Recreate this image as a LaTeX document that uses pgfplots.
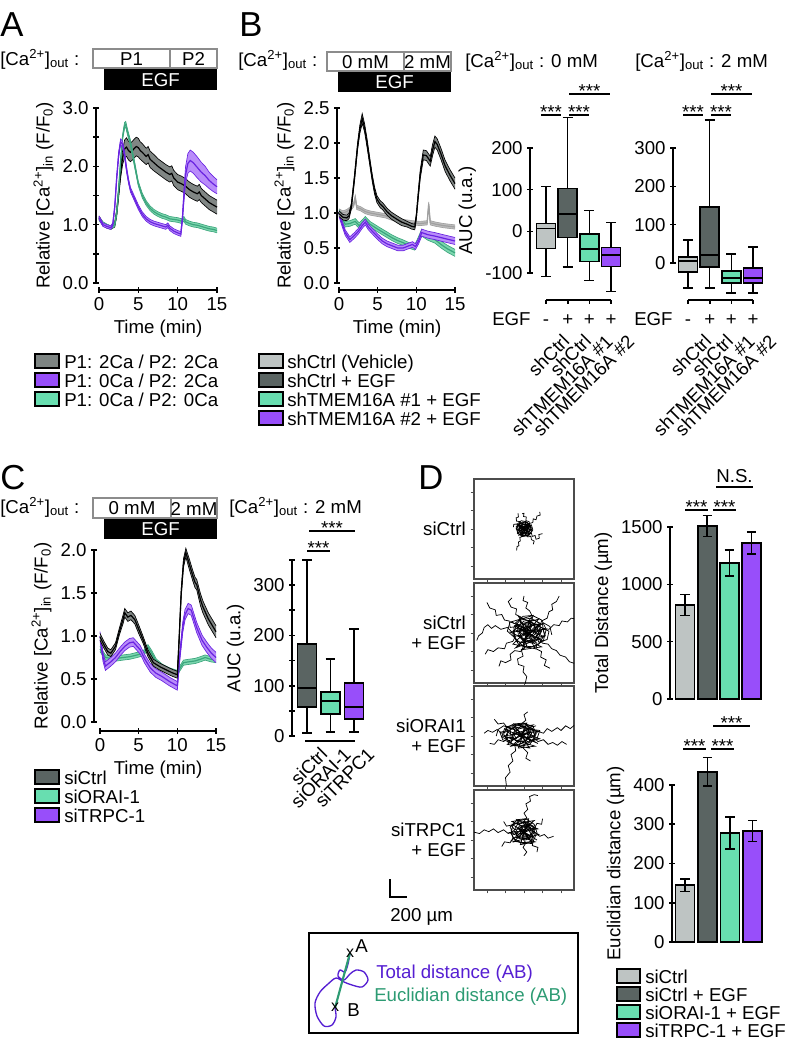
\documentclass[border=0pt]{standalone}
\usepackage{fontspec}
\setmainfont{Liberation Sans}
\usepackage{pgfplots}
\pgfplotsset{compat=1.18}
\usepackage{pgfplotstable}

\definecolor{lgray}{RGB}{190,196,195}
\definecolor{dgray}{RGB}{90,100,98}
\definecolor{mgray}{RGB}{125,132,130}
\definecolor{mint}{RGB}{104,222,176}
\definecolor{violet}{RGB}{152,78,250}
\definecolor{pline}{RGB}{105,35,225}
\definecolor{pband}{RGB}{185,140,250}
\definecolor{gline}{RGB}{60,165,125}
\definecolor{gband}{RGB}{125,215,175}
\definecolor{bband}{RGB}{128,134,132}
\definecolor{vline}{RGB}{160,160,160}
\definecolor{vband}{RGB}{190,190,190}
\definecolor{txtpurple}{RGB}{85,30,210}
\definecolor{txtgreen}{RGB}{45,155,115}
\definecolor{stimgray}{RGB}{140,140,140}

\newcommand{\fs}{\fontsize{14}{16}\selectfont}
\newcommand{\Ca}{[Ca\textsuperscript{2+}]\textsubscript{out}}

\pgfplotsset{
  base/.style={scale only axis, clip=false, font=\fs,
    axis line style={-, line width=1.4pt},
    every tick/.style={black, line width=1.2pt},
    major tick length=4pt, tick align=outside},
  noarrows/.style={x axis line style={-}, y axis line style={-},
    every outer x axis line/.append style={-}, every outer y axis line/.append style={-},
    every inner x axis line/.append style={-}, every inner y axis line/.append style={-}},
  yonly/.style={base, axis y line=left, axis x line=none, noarrows},
  xonly/.style={base, axis x line=bottom, axis y line=none, noarrows, ymin=0, ymax=1, height=2pt},
  geoA/.style={scale only axis, width=90.75pt, height=131.25pt, xmin=-0.381, xmax=15, ymin=0, ymax=3},
  geoB/.style={scale only axis, width=88.5pt, height=131.25pt, xmin=-0.259, xmax=15, ymin=0, ymax=2.5},
  geoC/.style={scale only axis, width=91.5pt, height=129pt, xmin=-0.776, xmax=15, ymin=0, ymax=2},
  traj/.style={scale only axis, width=75pt, height=75pt, xmin=-540, xmax=540, ymin=-540, ymax=540,
    axis line style={line width=0.8pt, draw=black!70},
    xtick={-400,-200,0,200,400}, ytick={-400,-200,0,200,400},
    xticklabels={}, yticklabels={}, tick pos=left, tick align=outside,
    major tick length=2.5pt, every tick/.style={black!70, line width=0.6pt}, clip=true},
  tr/.style={black, line width=0.55pt},
  br/.style={ybar, bar width=14.25pt, bar shift=0pt, draw=black, line width=1.3pt,
    error bars/.cd, y dir=both, y explicit,
    error bar style={line width=1.2pt, black},
    error mark options={rotate=90, mark size=3.5pt, line width=1.2pt, black}},
}

% #1 geometry style, #2 table, #3 line colour, #4 band colour
\newcommand{\bandax}[4]{%
\begin{axis}[#1, hide axis, anchor=north west, at={(0pt,0pt)}, clip=false, stack plots=y]
\addplot[draw=none] table[x=t, y expr=\thisrow{m}-\thisrow{e}] {#2};
\addplot[fill=#4, draw=none] table[x=t, y expr=2*\thisrow{e}] {#2} \closedcycle;
\end{axis}
\begin{axis}[#1, hide axis, anchor=north west, at={(0pt,0pt)}, clip=false]
\addplot[draw=#3, line width=0.5pt] table[x=t, y expr=\thisrow{m}+\thisrow{e}] {#2};
\addplot[draw=#3, line width=0.5pt] table[x=t, y expr=\thisrow{m}-\thisrow{e}] {#2};
\addplot[draw=#3, line width=0.9pt] table[x=t, y=m] {#2};
\end{axis}}

% box plot: #1 x, #2 half box, #3 half cap, #4 lower whisker, #5 Q1, #6 median, #7 Q3, #8 upper whisker, #9 colour
\newcommand{\bxp}[9]{%
 \pgfmathsetmacro\xl{#1-#2}\pgfmathsetmacro\xr{#1+#2}%
 \pgfmathsetmacro\cl{#1-#3}\pgfmathsetmacro\cr{#1+#3}%
 \edef\bxpcmd{%
 \noexpand\addplot[draw=black, line width=1.2pt] coordinates {(#1,#4) (#1,#5)};
 \noexpand\addplot[draw=black, line width=1.2pt] coordinates {(#1,#7) (#1,#8)};
 \noexpand\addplot[draw=black, line width=1.2pt] coordinates {(\cl,#4) (\cr,#4)};
 \noexpand\addplot[draw=black, line width=1.2pt] coordinates {(\cl,#8) (\cr,#8)};
 \noexpand\addplot[draw=black, fill=#9, line width=1.2pt] coordinates {(#1,#5) (\xr,#5) (\xr,#7) (\xl,#7) (\xl,#5) (#1,#5)};
 \noexpand\addplot[draw=black, line width=1.2pt] coordinates {(\xl,#6) (\xr,#6)};
 }\bxpcmd}

% ---------------- Panel A data
\pgfplotstableread{
t m e
0 1.12 0.03
0.5 1.01 0.03
1 0.97 0.03
1.5 0.95 0.03
2 1.0 0.04
2.25 1.2 0.06
2.5 1.55 0.08
2.75 1.9 0.1
3 2.15 0.12
3.25 2.3 0.15
3.5 2.33 0.16
3.75 2.27 0.16
4 2.24 0.16
4.25 2.27 0.16
4.5 2.31 0.16
4.75 2.34 0.16
5 2.32 0.16
5.25 2.27 0.15
5.5 2.24 0.15
6 2.17 0.14
6.25 2.2 0.14
6.5 2.12 0.14
7 2.06 0.14
7.5 2.0 0.13
8 1.95 0.13
8.5 1.9 0.13
9 1.86 0.13
9.25 1.88 0.13
9.5 1.8 0.13
10 1.73 0.13
10.5 1.7 0.13
11 1.66 0.13
11.5 1.6 0.13
12 1.56 0.13
12.5 1.53 0.13
12.75 1.56 0.13
13 1.5 0.12
13.5 1.44 0.12
14 1.38 0.12
14.5 1.34 0.12
15 1.3 0.12
}\tAgray
\pgfplotstableread{
t m e
0 1.12 0.03
0.5 1.0 0.03
1 0.97 0.03
1.5 0.95 0.03
1.75 1.0 0.03
2 1.3 0.04
2.25 1.8 0.05
2.5 2.2 0.05
2.75 2.42 0.05
3 2.38 0.05
3.25 2.2 0.05
3.5 1.95 0.05
3.75 1.75 0.04
4 1.6 0.04
4.5 1.45 0.04
5 1.3 0.04
5.5 1.18 0.04
6 1.1 0.04
6.5 1.05 0.04
7 1.02 0.04
7.5 1.0 0.04
8 0.98 0.04
8.5 0.96 0.04
8.75 0.99 0.04
9 0.94 0.04
9.5 0.89 0.04
10 0.86 0.04
10.4 0.84 0.04
10.6 1.1 0.06
10.8 1.5 0.1
11 1.85 0.14
11.3 2.05 0.17
11.6 2.1 0.18
12 2.06 0.18
12.5 1.98 0.18
13 1.9 0.17
13.5 1.84 0.16
14 1.76 0.14
14.5 1.7 0.13
15 1.65 0.12
}\tApurple
\pgfplotstableread{
t m e
0 1.1 0.03
0.5 1.02 0.03
1 0.98 0.03
1.5 0.95 0.03
2 1.0 0.03
2.25 1.2 0.03
2.5 1.6 0.04
2.75 2.1 0.04
3 2.5 0.04
3.25 2.7 0.05
3.4 2.72 0.05
3.6 2.6 0.05
3.8 2.5 0.05
4 2.4 0.05
4.5 2.05 0.05
5 1.7 0.04
5.5 1.5 0.04
6 1.37 0.04
6.5 1.28 0.04
7 1.22 0.04
7.5 1.18 0.04
8 1.15 0.04
8.5 1.13 0.04
9 1.1 0.04
9.5 1.09 0.04
10 1.08 0.04
10.5 1.06 0.04
10.8 1.1 0.04
11 1.05 0.04
11.5 1.02 0.04
12 1.0 0.04
12.5 0.99 0.04
13 0.97 0.04
13.5 0.95 0.04
14 0.93 0.04
14.5 0.92 0.04
15 0.9 0.04
}\tAgreen

% ---------------- Panel B data
\pgfplotstableread{
t m e
0 0.99 0.04
0.5 0.94 0.04
1 0.93 0.04
1.3 0.96 0.04
1.6 1.1 0.04
2.0 1.5 0.05
2.4 1.95 0.05
2.7 2.2 0.06
3.0 2.35 0.07
3.3 2.22 0.06
3.6 2.02 0.06
4.0 1.72 0.05
4.3 1.5 0.05
4.6 1.32 0.05
4.9 1.2 0.05
5.3 1.13 0.05
5.7 1.09 0.05
6.2 1.02 0.05
6.8 0.96 0.05
7.5 0.91 0.05
8.1 0.87 0.05
8.8 0.84 0.04
9.4 0.81 0.04
9.8 0.8 0.04
10.0 0.95 0.04
10.2 1.2 0.05
10.5 1.55 0.06
10.9 1.83 0.07
11.3 1.82 0.07
11.8 1.74 0.07
12.1 1.9 0.08
12.4 2.02 0.08
12.7 1.98 0.08
13.2 1.84 0.08
13.7 1.68 0.08
14.3 1.55 0.08
15 1.42 0.08
}\tBblack
\pgfplotstableread{
t m e
0 1.03 0.03
0.5 1.0 0.03
1 1.02 0.03
1.5 1.06 0.03
1.9 1.12 0.03
2.1 1.22 0.03
2.3 1.08 0.03
2.8 1.06 0.03
3.4 1.02 0.03
4 1.0 0.03
5 0.98 0.03
6 0.96 0.03
7 0.92 0.03
8.2 0.88 0.03
9.5 0.86 0.03
10.5 0.85 0.03
11.4 0.86 0.03
11.6 1.13 0.03
11.8 0.86 0.03
12.5 0.84 0.03
13.5 0.82 0.03
15 0.8 0.03
}\tBveh
\pgfplotstableread{
t m e
0 1.01 0.04
0.4 0.92 0.04
0.8 0.84 0.04
1.4 0.85 0.04
2.1 0.88 0.04
2.6 0.82 0.04
3.0 0.86 0.04
3.4 0.91 0.04
4.0 0.84 0.04
5.0 0.77 0.04
5.9 0.71 0.04
6.8 0.65 0.04
7.5 0.61 0.04
8.2 0.58 0.04
9.0 0.54 0.04
9.8 0.51 0.04
10.2 0.6 0.04
10.7 0.72 0.05
11.5 0.66 0.05
12.4 0.62 0.05
13.2 0.55 0.05
14 0.49 0.05
15 0.43 0.05
}\tBgreen
\pgfplotstableread{
t m e
0 0.99 0.04
0.4 0.85 0.04
0.8 0.72 0.04
1.4 0.62 0.04
2.0 0.68 0.04
2.5 0.74 0.04
3.0 0.82 0.04
3.4 0.87 0.04
3.8 0.8 0.04
4.3 0.74 0.04
5.0 0.66 0.04
5.6 0.6 0.04
6.2 0.56 0.04
6.9 0.53 0.04
7.6 0.5 0.04
8.3 0.5 0.04
9.0 0.53 0.04
9.5 0.55 0.04
9.9 0.52 0.04
10.3 0.6 0.04
10.7 0.72 0.05
11.5 0.69 0.05
12.4 0.67 0.05
13.5 0.64 0.05
15 0.6 0.05
}\tBpurple

% ---------------- Panel C data
\pgfplotstableread{
t m e
0 0.99 0.04
0.5 0.9 0.04
1.0 0.82 0.04
1.4 0.8 0.04
2.0 0.88 0.04
2.5 1.05 0.04
3.0 1.2 0.05
3.2 1.27 0.05
3.6 1.22 0.05
4.0 1.24 0.05
4.5 1.19 0.05
5.0 1.08 0.05
5.6 0.95 0.04
6.2 0.8 0.04
6.9 0.69 0.04
7.8 0.64 0.04
8.7 0.6 0.04
9.4 0.57 0.04
10.0 0.55 0.04
10.2 0.9 0.05
10.5 1.5 0.05
10.8 1.85 0.05
11.1 1.97 0.05
11.5 1.85 0.06
12.0 1.7 0.06
12.3 1.62 0.06
12.5 1.6 0.06
13.0 1.42 0.07
13.3 1.34 0.07
14.0 1.2 0.07
15 1.05 0.07
}\tCblack
\pgfplotstableread{
t m e
0 1.0 0.05
0.4 0.75 0.05
0.7 0.65 0.05
1.4 0.7 0.05
2.0 0.75 0.05
2.6 0.82 0.05
3.2 0.88 0.05
3.8 0.92 0.05
4.3 0.93 0.05
4.8 0.88 0.05
5.2 0.84 0.05
5.8 0.73 0.05
6.5 0.63 0.05
7.2 0.57 0.05
8.0 0.53 0.05
9.0 0.47 0.05
10.0 0.42 0.05
10.3 0.75 0.05
10.7 1.1 0.06
11.0 1.25 0.06
11.4 1.32 0.06
11.8 1.3 0.06
12.5 1.1 0.06
13.2 0.95 0.06
13.8 0.87 0.06
14.4 0.8 0.06
15 0.75 0.06
}\tCpurple
\pgfplotstableread{
t m e
0 0.85 0.03
0.7 0.75 0.03
1.5 0.74 0.03
2.2 0.74 0.03
3.0 0.75 0.03
3.9 0.76 0.03
4.8 0.78 0.03
5.6 0.8 0.03
6.2 0.87 0.03
6.7 0.8 0.03
7.3 0.7 0.03
8.1 0.64 0.03
9.0 0.6 0.03
10.0 0.57 0.03
10.3 0.62 0.03
10.8 0.69 0.03
11.5 0.7 0.03
12.3 0.71 0.03
13.0 0.73 0.03
13.6 0.75 0.03
14.3 0.73 0.03
15 0.72 0.03
}\tCgreen

\begin{document}
\begin{tikzpicture}[x=0.75pt, y=-0.75pt, font=\fs]
\useasboundingbox (0,0) rectangle (793,1047);

% ================= Panel letters
\node[anchor=north west, inner sep=0, font=\fontsize{26}{28}\selectfont] at (0,12) {A};
\node[anchor=north west, inner sep=0, font=\fontsize{26}{28}\selectfont] at (239,12) {B};
\node[anchor=north west, inner sep=0, font=\fontsize{26}{28}\selectfont] at (0,465) {C};
\node[anchor=north west, inner sep=0, font=\fontsize{26}{28}\selectfont] at (418,465) {D};

% ================= Stimulus headers
\node[anchor=base west, inner sep=0] at (0,65) {\Ca\ :};
\draw[stimgray, line width=1pt, fill=white] (93,49) rectangle (217,68);
\draw[stimgray, line width=1pt] (170,49) -- (170,68);
\node at (131.5,59) {P1}; \node at (193.5,59) {P2};
\fill[black] (104,69) rectangle (217,90);
\node[white] at (160.5,80) {EGF};

\node[anchor=base west, inner sep=0] at (238,66) {\Ca\ :};
\draw[stimgray, line width=1pt, fill=white] (327,52) rectangle (451,71);
\draw[stimgray, line width=1pt] (404,52) -- (404,71);
\node at (365.5,62) {0 mM}; \node at (427.5,62) {2 mM};
\fill[black] (338,72) rectangle (451,92);
\node[white] at (394.5,82.5) {EGF};

\node[anchor=base west, inner sep=0] at (465,67) {\Ca\ : 0 mM};
\node[anchor=base west, inner sep=0] at (635,67) {\Ca\ : 2 mM};

\node[anchor=base west, inner sep=0] at (0,513) {\Ca\ :};
\draw[stimgray, line width=1pt, fill=white] (93,498) rectangle (217,518);
\draw[stimgray, line width=1pt] (171,498) -- (171,518);
\node at (132,508.5) {0 mM}; \node at (194,508.5) {2 mM};
\fill[black] (104,519) rectangle (217,539);
\node[white] at (160.5,529.5) {EGF};
\node[anchor=base west, inner sep=0] at (229,513) {\Ca\ : 2 mM};

% ================= Panel A traces
\begin{scope}[shift={(96,108)}]
\begin{axis}[yonly, geoA, anchor=north west, at={(0pt,0pt)},
  ytick={0,0.5,...,3}, yticklabels={0.0,,1.0,,2.0,,3.0},
  ylabel={Relative [Ca\textsuperscript{2+}]\textsubscript{in} (F/F\textsubscript{0})}]
\addplot[draw=none] coordinates {(0,0) (15,3)};
\end{axis}
\bandax{geoA}{\tAgray}{black}{bband}
\bandax{geoA}{\tAgreen}{gline}{gband}
\bandax{geoA}{\tApurple}{pline}{pband}
\end{scope}
\begin{scope}[shift={(99,290)}]
\begin{axis}[xonly, anchor=south west, at={(0pt,0pt)}, width=88.5pt, xmin=0, xmax=15,
  xtick={0,5,10,15}, xticklabels={0,5,10,15}, xlabel={Time (min)}]
\addplot[draw=none] coordinates {(0,0) (15,1)};
\end{axis}
\end{scope}

% ================= Panel B traces
\begin{scope}[shift={(337,108)}]
\begin{axis}[yonly, geoB, anchor=north west, at={(0pt,0pt)},
  ytick={0,0.5,...,2.5}, yticklabels={0.0,0.5,1.0,1.5,2.0,2.5},
  ylabel={Relative [Ca\textsuperscript{2+}]\textsubscript{in} (F/F\textsubscript{0})}]
\addplot[draw=none] coordinates {(0,0) (15,2.5)};
\end{axis}
\bandax{geoB}{\tBveh}{vline}{vband}
\bandax{geoB}{\tBgreen}{gline}{gband}
\bandax{geoB}{\tBpurple}{pline}{pband}
\bandax{geoB}{\tBblack}{black}{bband}
\end{scope}
\begin{scope}[shift={(339,290)}]
\begin{axis}[xonly, anchor=south west, at={(0pt,0pt)}, width=87pt, xmin=0, xmax=15,
  xtick={0,5,10,15}, xticklabels={0,5,10,15}, xlabel={Time (min)}]
\addplot[draw=none] coordinates {(0,0) (15,1)};
\end{axis}
\end{scope}

% ================= Panel B box plots 0 mM
\begin{scope}[shift={(530,148)}]
\begin{axis}[yonly, anchor=north west, at={(0pt,0pt)}, width=67.5pt, height=93.75pt,
  xmin=0.262, xmax=4.415, ymin=-100, ymax=200,
  ytick={-100,0,100,200}, yticklabels={-100,0,100,200}, ylabel={AUC (u.a.)}]
\bxp{1}{0.44}{0.23}{-108}{-41}{7}{19}{108}{lgray}
\bxp{2}{0.44}{0.23}{-86}{-15}{41}{103}{273}{dgray}
\bxp{3}{0.44}{0.23}{-118}{-72}{-43}{-7}{50}{mint}
\bxp{4}{0.44}{0.23}{-144}{-84}{-57}{-39}{21}{violet}
\end{axis}
\end{scope}

% ================= Panel B box plots 2 mM
\begin{scope}[shift={(673,148)}]
\begin{axis}[yonly, anchor=north west, at={(0pt,0pt)}, width=66.75pt, height=86.25pt,
  xmin=0.308, xmax=4.415, ymin=0, ymax=300,
  ytick={0,100,200,300}, yticklabels={0,100,200,300}]
\bxp{1}{0.44}{0.23}{-65}{-23}{5}{16}{60}{lgray}
\bxp{2}{0.44}{0.23}{-65}{-10}{21}{146}{373}{dgray}
\bxp{3}{0.44}{0.23}{-78}{-52}{-39}{-21}{23}{mint}
\bxp{4}{0.44}{0.23}{-78}{-52}{-39}{-13}{42}{violet}
\end{axis}
\end{scope}

% B significance
\foreach \a/\b in {541/561,569/589,683/703,711/731}{
  \draw[line width=1.4pt] (\a,115) -- (\b,115);
  \node[anchor=base, inner sep=0] at ({(\a+\b)/2},118) {***};}
\foreach \a/\b in {569/610,711/752}{
  \draw[line width=1.4pt] (\a,94) -- (\b,94);
  \node[anchor=base, inner sep=0] at ({(\a+\b)/2},97) {***};}
% B brackets and EGF rows
\draw[line width=1.4pt] (546,300) -- (611,300);
\foreach \x in {546,567.7,589.3,611} \draw[line width=1.2pt] (\x,300) -- (\x,304);
\draw[line width=1.4pt] (688,300) -- (753,300);
\foreach \x in {688,709.7,731.3,753} \draw[line width=1.2pt] (\x,300) -- (\x,304);
\node[anchor=base west, inner sep=0] at (492,325) {EGF};
\node[anchor=base west, inner sep=0] at (634,325) {EGF};
\foreach \x/\s in {546/-,567.7/+,589.3/+,611/+,688/-,709.7/+,731.3/+,753/+}
  \node[anchor=base, inner sep=0] at (\x,325) {\s};
\foreach \x/\s in {546/shCtrl,567.7/shCtrl,589.3/shTMEM16A \#1,611/shTMEM16A \#2,
                   688/shCtrl,709.7/shCtrl,731.3/shTMEM16A \#1,753/shTMEM16A \#2}
  \node[rotate=45, anchor=north east, inner sep=0] at (\x+15,333) {\s};

% ================= Legends A & B
\foreach \y/\c/\s in {368/mgray/{P1: 2Ca / P2: 2Ca},387/violet/{P1: 0Ca / P2: 2Ca},406/mint/{P1: 0Ca / P2: 0Ca}}{
  \draw[line width=1.5pt, fill=\c] (35,\y-14) rectangle (59,\y);
  \node[anchor=base west, inner sep=0] at (64,\y) {\s};}
\foreach \y/\c/\s in {368/lgray/{shCtrl (Vehicle)},387/dgray/{shCtrl + EGF},406/mint/{shTMEM16A \#1 + EGF},425/violet/{shTMEM16A \#2 + EGF}}{
  \draw[line width=1.5pt, fill=\c] (259,\y-14) rectangle (283,\y);
  \node[anchor=base west, inner sep=0] at (287,\y) {\s};}

% ================= Panel C traces
\begin{scope}[shift={(94,550)}]
\begin{axis}[yonly, geoC, anchor=north west, at={(0pt,0pt)},
  ytick={0,0.5,...,2}, yticklabels={0.0,0.5,1.0,1.5,2.0},
  ylabel={Relative [Ca\textsuperscript{2+}]\textsubscript{in} (F/F\textsubscript{0})}]
\addplot[draw=none] coordinates {(0,0) (15,2)};
\end{axis}
\bandax{geoC}{\tCgreen}{gline}{gband}
\bandax{geoC}{\tCpurple}{pline}{pband}
\bandax{geoC}{\tCblack}{black}{bband}
\end{scope}
\begin{scope}[shift={(100,731)}]
\begin{axis}[xonly, anchor=south west, at={(0pt,0pt)}, width=87pt, xmin=0, xmax=15,
  xtick={0,5,10,15}, xticklabels={0,5,10,15}, xlabel={Time (min)}]
\addplot[draw=none] coordinates {(0,0) (15,1)};
\end{axis}
\end{scope}

% ================= Panel C box plot
\begin{scope}[shift={(292,560)}]
\begin{axis}[yonly, anchor=north west, at={(0pt,0pt)}, width=54pt, height=132pt,
  xmin=0.362, xmax=3.426, ymin=0, ymax=350,
  ytick={0,50,...,350}, yticklabels={0,,100,,200,,300,}, 
  ylabel={AUC (u.a.)}]
\bxp{1}{0.4}{0.21}{6}{58}{95}{183}{350}{dgray}
\bxp{2}{0.4}{0.21}{8}{44}{70}{88}{153}{mint}
\bxp{3}{0.4}{0.21}{8}{34}{58}{106}{213}{violet}
\end{axis}
\end{scope}
\draw[line width=1.4pt] (307,551) -- (330,551);
\node[anchor=base, inner sep=0] at (318.5,554) {***};
\draw[line width=1.4pt] (309,531) -- (355,531);
\node[anchor=base, inner sep=0] at (332,534) {***};
\draw[line width=1.4pt] (305,741) -- (355,741);
\foreach \x/\s in {307/siCtrl,330.5/siORAI-1,354/siTRPC1}
  \node[rotate=45, anchor=north east, inner sep=0] at (\x+12,746) {\s};

% Legend C
\foreach \y/\c/\s in {784/dgray/siCtrl,803/mint/siORAI-1,822/violet/siTRPC-1}{
  \draw[line width=1.5pt, fill=\c] (35,\y-14) rectangle (59,\y);
  \node[anchor=base west, inner sep=0] at (64,\y) {\s};}

% ================= Panel D trajectories (µm)
\begin{scope}[shift={(474,479)}]
\begin{axis}[traj, anchor=north west, at={(0pt,0pt)}]
\addplot[tr] coordinates {(0,0) (30,10) (25,45) (60,40) (55,80) (20,90) (25,130) (-5,135) (0,170) (-20,165)};
\addplot[tr] coordinates {(0,0) (-30,-10) (-35,25) (-70,20) (-75,55) (-110,50) (-115,20)};
\addplot[tr] coordinates {(0,0) (10,-30) (-20,-40) (-15,-80) (-45,-90) (-40,-130) (-60,-140) (-55,-180) (-75,-190) (-80,-230)};
\addplot[tr] coordinates {(0,0) (40,-10) (45,-50) (80,-45) (90,-80) (120,-70) (130,-110) (165,-100) (160,-60) (200,-50)};
\addplot[tr] coordinates {(0,0) (20,30) (55,25) (60,60) (95,70) (100,110) (130,100) (140,140) (175,150) (170,185)};
\addplot[tr] coordinates {(0,0) (-20,35) (-50,40) (-45,80) (-80,85) (-85,120) (-60,130) (-65,170)};
\addplot[tr] coordinates {(0,0) (35,-35) (15,-60) (40,-85) (75,-80) (80,-115) (110,-130) (100,-165)};
\addplot[tr] coordinates {(0,0) (40,15) (20,50) (-25,40) (-50,5) (-30,-35) (15,-45) (55,-20) (70,25) (35,70) (-15,75) (-60,45) (-80,0) (-55,-55) (0,-75) (60,-60) (95,-10) (80,45) (30,30) (-10,10) (-35,-15) (5,-25) (40,5)};
\addplot[tr] coordinates {(0,0) (-35,20) (-60,-20) (-20,-55) (30,-35) (50,10) (15,45) (-40,60) (-85,25) (-70,-40) (-20,-80) (45,-70) (85,-25) (70,40) (20,80) (-30,90) (-70,55) (-45,10) (-5,-15) (25,15)};
\addplot[tr] coordinates {(0,0) (20,-20) (50,5) (30,35) (-5,25) (-25,-5) (-10,-40) (30,-50) (65,-25) (75,15) (50,50) (0,55) (-45,30) (-55,-10) (-30,-60) (10,-65)};
\addplot[tr] coordinates {(0,0) (70,-40) (-60,35) (50,60) (-70,-50) (30,-75) (-40,70) (75,20) (-80,0) (60,-65) (-25,-80) (20,80) (-75,45) (80,-10) (-50,-65) (45,40) (-30,20) (10,-30)};
\end{axis}
\end{scope}
\begin{scope}[shift={(474,583)}]
\begin{axis}[traj, anchor=north west, at={(0pt,0pt)}]
\addplot[tr] coordinates {(50,0) (-10,40) (-40,20) (-80,70) (-150,60) (-160,130) (-210,140) (-240,200) (-300,190) (-310,250) (-370,270) (-400,330)};
\addplot[tr] coordinates {(50,0) (-20,-10) (-70,30) (-130,10) (-180,60) (-250,40) (-310,80) (-350,50) (-390,90) (-430,60) (-450,0) (-490,-30) (-510,-80)};
\addplot[tr] coordinates {(50,0) (110,30) (160,10) (210,50) (270,40) (320,90) (380,80) (410,130) (470,120) (510,160) (570,150)};
\addplot[tr] coordinates {(50,0) (100,-40) (160,-60) (200,-110) (260,-120) (300,-170) (350,-190) (390,-240) (450,-260) (490,-310) (550,-330)};
\addplot[tr] coordinates {(50,0) (30,-60) (-10,-100) (10,-160) (-40,-200) (-100,-190) (-150,-230) (-140,-290) (-200,-320) (-250,-300) (-270,-360)};
\addplot[tr] coordinates {(50,0) (80,70) (50,130) (90,180) (60,240) (20,270) (40,330) (-10,350) (0,400)};
\addplot[tr] coordinates {(50,0) (110,60) (170,70) (190,130) (250,160) (270,230) (310,250) (300,310) (350,340) (380,400)};
\addplot[tr] coordinates {(50,0) (10,-80) (30,-140) (-30,-180) (-10,-250) (-70,-280) (-60,-340) (0,-360) (-10,-420) (30,-470) (10,-560)};
\addplot[tr] coordinates {(50,0) (-30,-40) (-90,-30) (-120,-90) (-190,-110) (-210,-170) (-280,-160) (-330,-200) (-390,-180) (-420,-230)};
\addplot[tr] coordinates {(50,0) (90,-80) (140,-110) (130,-170) (190,-200) (180,-260) (240,-290) (220,-350) (280,-380)};
\addplot[tr] coordinates {(50,0) (20,80) (-40,110) (-30,170) (-90,200) (-80,260) (-140,280) (-170,340) (-130,380)};
\addplot[tr] coordinates {(50,0) (130,40) (90,110) (0,90) (-50,20) (-20,-70) (70,-100) (150,-60) (190,20) (160,110) (70,160) (-40,140) (-110,60) (-100,-50) (-10,-140) (110,-150) (210,-80) (240,40) (190,140) (90,190) (-10,180) (-90,110) (-40,30) (50,60) (110,0) (50,-50)};
\addplot[tr] coordinates {(50,0) (-10,50) (60,100) (140,70) (160,-10) (100,-80) (10,-90) (-60,-30) (-70,60) (0,130) (110,140) (200,90) (220,-20) (160,-120) (50,-160) (-60,-120) (-120,-20) (-80,90) (10,40) (80,20)};
\addplot[tr] coordinates {(50,0) (100,-30) (150,20) (110,80) (30,70) (-10,10) (30,-60) (120,-50) (180,10) (150,90) (60,120) (-20,90) (-50,0) (0,-90) (90,-110) (170,-60)};
\addplot[tr] coordinates {(50,0) (170,30) (130,-50) (230,-30) (200,50) (270,20) (250,-70) (160,-100) (110,40) (210,110) (280,70) (300,-20)};
\addplot[tr] coordinates {(50,0) (-60,-30) (20,-110) (-80,-90) (-120,20) (-40,80) (-150,120) (-180,20) (-90,-60)};
\addplot[tr] coordinates {(50,0) (210,-90) (-100,80) (160,150) (-120,-120) (120,-170) (-60,180) (230,40) (-150,10) (190,-150) (-20,-180) (100,190) (-140,120) (220,-40) (-90,-160) (170,100) (-50,50) (120,-60) (0,-100) (60,140)};
\end{axis}
\end{scope}
\begin{scope}[shift={(474,686)}]
\begin{axis}[traj, anchor=north west, at={(0pt,0pt)}]
\addplot[tr] coordinates {(-20,10) (-80,40) (-130,10) (-180,50) (-240,30) (-290,70) (-340,40) (-390,60) (-430,30)};
\addplot[tr] coordinates {(-20,10) (50,30) (100,0) (150,50) (210,30) (250,80) (300,50) (360,90) (400,60) (450,110) (500,80) (560,130)};
\addplot[tr] coordinates {(-20,10) (40,-30) (100,-10) (150,-60) (210,-40) (260,-90) (310,-70) (360,-100) (410,-60) (460,-90)};
\addplot[tr] coordinates {(-20,10) (-50,-60) (-100,-90) (-90,-160) (-140,-200) (-120,-270) (-170,-320) (-150,-390) (-200,-450) (-190,-540)};
\addplot[tr] coordinates {(-20,10) (0,80) (-30,130) (20,170) (0,230) (40,260)};
\addplot[tr] coordinates {(-20,10) (-70,70) (-120,100) (-180,90) (-220,140) (-280,130) (-320,180)};
\addplot[tr] coordinates {(-20,10) (20,-70) (-10,-130) (40,-180) (20,-240) (70,-270)};
\addplot[tr] coordinates {(-20,10) (-100,-30) (-160,-10) (-220,-60) (-280,-40) (-320,-90) (-370,-80)};
\addplot[tr] coordinates {(-20,10) (50,40) (0,90) (-80,70) (-130,10) (-90,-50) (0,-60) (70,-10) (90,60) (20,120) (-80,110) (-170,50) (-190,-30) (-120,-90) (-20,-100) (80,-60) (130,20) (100,100) (0,140) (-110,130) (-210,80) (-240,-10) (-160,-50) (-60,-10) (10,20)};
\addplot[tr] coordinates {(-20,10) (-90,50) (-40,100) (40,80) (70,10) (20,-50) (-70,-60) (-140,-10) (-150,70) (-80,120) (10,130) (100,70) (120,-20) (60,-90) (-50,-110) (-170,-70) (-220,20) (-180,100)};
\addplot[tr] coordinates {(-20,10) (-120,30) (-80,-30) (-200,-10) (-170,60) (-260,40) (-230,-40) (-140,-70) (-100,70) (-220,110) (-280,70) (-300,0)};
\addplot[tr] coordinates {(-20,10) (70,50) (30,-20) (120,0) (90,70) (170,60) (140,-30) (60,-50) (20,80) (130,110)};
\addplot[tr] coordinates {(-20,10) (150,-80) (-200,70) (100,120) (-180,-90) (60,-130) (-110,130) (160,50) (-230,0) (120,-110) (-60,-130) (30,140) (-190,100) (170,-30) (-140,-110) (90,80) (-90,30) (40,-60)};
\end{axis}
\end{scope}
\begin{scope}[shift={(474,790)}]
\begin{axis}[traj, anchor=north west, at={(0pt,0pt)}]
\addplot[tr] coordinates {(0,80) (20,140) (-10,190) (30,240) (0,290) (40,330) (20,390) (70,420) (60,470) (110,490) (150,480)};
\addplot[tr] coordinates {(0,80) (-60,60) (-110,100) (-170,70) (-220,110) (-280,80) (-330,120) (-380,90) (-430,110) (-480,70) (-560,90)};
\addplot[tr] coordinates {(0,80) (60,50) (120,80) (170,40) (220,60) (260,20) (320,40)};
\addplot[tr] coordinates {(0,80) (-20,20) (20,-30) (-10,-80) (30,-130) (0,-170)};
\addplot[tr] coordinates {(0,80) (-50,130) (-100,110) (-140,160) (-190,150) (-220,200)};
\addplot[tr] coordinates {(0,80) (50,20) (100,0) (90,-60) (150,-80) (140,-130)};
\addplot[tr] coordinates {(0,80) (-60,30) (-120,20) (-150,-30) (-210,-20) (-240,-70)};
\addplot[tr] coordinates {(0,80) (60,130) (110,120) (140,180) (190,170) (200,230)};
\addplot[tr] coordinates {(0,80) (70,110) (30,170) (-50,150) (-90,90) (-60,20) (20,0) (90,40) (110,120) (50,190) (-40,210) (-120,160) (-140,70) (-90,-10) (0,-40) (100,-10) (140,80) (110,170) (20,230) (-70,220) (-150,140) (-110,60) (-30,100) (40,60)};
\addplot[tr] coordinates {(0,80) (-60,120) (0,160) (70,130) (80,50) (20,10) (-60,30) (-110,100) (-70,170) (20,190) (100,150) (120,60) (60,-20) (-30,-30) (-120,20) (-140,110)};
\addplot[tr] coordinates {(0,80) (50,40) (100,90) (60,150) (-20,140) (-40,70) (10,30) (80,60) (40,120) (-30,110)};
\addplot[tr] coordinates {(0,80) (140,0) (-130,170) (110,210) (-140,-10) (90,-40) (-80,220) (150,120) (-160,80) (120,-20) (-40,-50) (50,230) (-130,200) (160,60) (-110,-20) (80,180) (-60,120) (40,20)};
\end{axis}
\end{scope}
\node[anchor=east, inner sep=0] at (466,529) {siCtrl};
\node[anchor=east, align=right, inner sep=0, font=\fontsize{14}{15}\selectfont] at (466,633) {siCtrl\\+ EGF};
\node[anchor=east, align=right, inner sep=0, font=\fontsize{14}{15}\selectfont] at (466,736) {siORAI1\\+ EGF};
\node[anchor=east, align=right, inner sep=0, font=\fontsize{14}{15}\selectfont] at (466,840) {siTRPC1\\+ EGF};
% scale bar
\draw[line width=1.5pt] (390,879) -- (390,897) -- (407,897);
\node[anchor=base west, inner sep=0] at (390,921) {200 µm};

% inset
\draw[line width=1.5pt] (309,933) rectangle (578,1033);
\draw[txtpurple, line width=1pt] plot[smooth] coordinates {(350,953) (348,964) (345,972) (340,970) (338,976) (344,980) (350,974) (356,970) (364,972) (368,980) (362,987) (352,985) (344,982) (336,978) (328,984) (320,992) (315,1003) (317,1016) (324,1026) (332,1025) (336,1017) (335,1008)};
\draw[txtgreen, line width=1.6pt] (350,953) -- (335,1008);
\node[inner sep=0] at (350,953) {\fontsize{12}{12}\selectfont x};
\node[inner sep=0] at (335,1007) {\fontsize{12}{12}\selectfont x};
\node[anchor=base west, inner sep=0] at (355,952) {A};
\node[anchor=base west, inner sep=0] at (347,1016) {B};
\node[anchor=base west, inner sep=0, txtpurple] at (376,978) {Total distance (AB)};
\node[anchor=base west, inner sep=0, txtgreen] at (374,1001) {Euclidian distance (AB)};

% ================= Panel D bars: total distance
\begin{scope}[shift={(670,527)}]
\begin{axis}[yonly, anchor=north west, at={(0pt,0pt)}, width=69pt, height=129pt,
  xmin=0.323, xmax=4.474, ymin=0, ymax=1500,
  ytick={0,500,1000,1500}, yticklabels={0,500,1000,1500},
  ylabel={Total Distance (µm)}]
\addplot[fill=lgray, br] coordinates {(1,820) +- (0,90)};
\addplot[fill=dgray, br] coordinates {(2,1510) +- (0,92)};
\addplot[fill=mint, br] coordinates {(3,1187) +- (0,115)};
\addplot[fill=violet, br] coordinates {(4,1361) +- (0,96)};
\end{axis}
\end{scope}
\foreach \a/\b in {685/708,713/736}{
  \draw[line width=1.4pt] (\a,510) -- (\b,510);
  \node[anchor=base, inner sep=0] at ({(\a+\b)/2},513) {***};}
\draw[line width=1.4pt] (716,487) -- (753,487);
\node[anchor=base, inner sep=0] at (734.5,482) {N.S.};

% ================= Panel D bars: euclidian distance
\begin{scope}[shift={(672,785)}]
\begin{axis}[yonly, anchor=north west, at={(0pt,0pt)}, width=69pt, height=117.75pt,
  xmin=0.422, xmax=4.511, ymin=0, ymax=400,
  ytick={0,100,200,300,400}, yticklabels={0,100,200,300,400},
  ylabel={Euclidian distance (µm)}]
\addplot[fill=lgray, br] coordinates {(1,145) +- (0,16)};
\addplot[fill=dgray, br] coordinates {(2,434) +- (0,36)};
\addplot[fill=mint, br] coordinates {(3,278) +- (0,41)};
\addplot[fill=violet, br] coordinates {(4,283) +- (0,27)};
\end{axis}
\end{scope}
\draw[line width=1.4pt] (713,726) -- (750,726);
\node[anchor=base, inner sep=0] at (731.5,729) {***};
\foreach \a/\b in {683/706,711/734}{
  \draw[line width=1.4pt] (\a,749) -- (\b,749);
  \node[anchor=base, inner sep=0] at ({(\a+\b)/2},752) {***};}

% Legend D
\foreach \y/\c/\s in {983/lgray/siCtrl,1001/dgray/{siCtrl + EGF},1019/mint/{siORAI-1 + EGF},1037/violet/{siTRPC-1 + EGF}}{
  \draw[line width=1.5pt, fill=\c] (617,\y-14) rectangle (640,\y);
  \node[anchor=base west, inner sep=0] at (645,\y) {\s};}

\end{tikzpicture}
\end{document}
